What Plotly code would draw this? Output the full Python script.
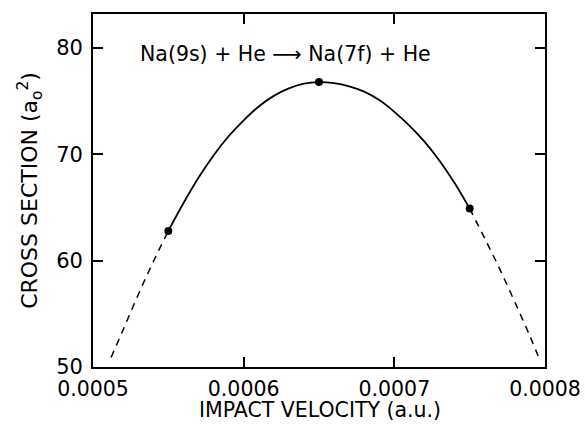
import plotly.graph_objects as go

# Measured points (solid dots)
pt_x = [0.00055, 0.00065, 0.00075]
pt_y = [62.8, 76.8, 64.9]

# Solid fitted curve between the measured points
solid_x = [0.00055, 0.00056, 0.00057, 0.00058, 0.00059, 0.00060, 0.00061, 0.00062,
           0.00063, 0.00064, 0.00065, 0.00066, 0.00067, 0.00068, 0.00069, 0.00070,
           0.00071, 0.00072, 0.00073, 0.00074, 0.00075]
solid_y = [62.8, 65.4, 67.8, 69.9, 71.7, 73.2, 74.5, 75.5,
           76.2, 76.65, 76.8, 76.7, 76.4, 75.9, 75.1, 74.0,
           72.7, 71.2, 69.4, 67.3, 64.9]

# Dashed extrapolations
dash_left_x = [0.000512, 0.00052, 0.00053, 0.00054, 0.00055]
dash_left_y = [50.9, 53.5, 56.8, 59.9, 62.8]
dash_right_x = [0.00075, 0.00076, 0.00077, 0.00078, 0.00079, 0.000797]
dash_right_y = [64.9, 62.1, 59.2, 56.1, 52.9, 50.5]

x_ticks = [0.0005, 0.0006, 0.0007, 0.0008]
x_tick_labels = ["0.0005", "0.0006", "0.0007", "0.0008"]
y_ticks = [50, 60, 70, 80]
y_tick_labels = ["50", "60", "70", "80"]

x_title = "IMPACT VELOCITY (a.u.)"
y_title = "CROSS SECTION (a<sub>o</sub><sup>2</sup>)"
reaction = "Na(9s) + He ⟶ Na(7f) + He"

FONT = "DejaVu Sans"

fig = go.Figure()
fig.add_trace(go.Scatter(x=solid_x, y=solid_y, mode="lines", line_shape="spline",
                         line=dict(color="black", width=1.8), hoverinfo="skip"))
fig.add_trace(go.Scatter(x=dash_left_x, y=dash_left_y, mode="lines", line_shape="spline",
                         line=dict(color="black", width=1.5, dash="7px,6px"), hoverinfo="skip"))
fig.add_trace(go.Scatter(x=dash_right_x, y=dash_right_y, mode="lines", line_shape="spline",
                         line=dict(color="black", width=1.5, dash="7px,6px"), hoverinfo="skip"))
fig.add_trace(go.Scatter(x=pt_x, y=pt_y, mode="markers",
                         marker=dict(color="black", size=8), hoverinfo="skip"))

fig.add_annotation(x=0.000628, y=79.4, xref="x", yref="y",
                   text=reaction, showarrow=False,
                   font=dict(family=FONT, size=20.5, color="black"))

# x-axis title placed as paper annotation below the tick labels
fig.add_annotation(x=0.502, y=0, xref="paper", yref="paper", yanchor="bottom",
                   yshift=-56, borderpad=0, text=x_title, showarrow=False,
                   font=dict(family=FONT, size=20.5, color="black"))

fig.update_layout(
    width=585, height=424,
    margin=dict(l=93, r=40, t=14, b=57),
    paper_bgcolor="white", plot_bgcolor="white",
    showlegend=False,
    font=dict(family=FONT, size=20, color="black"),
)
fig.update_xaxes(
    range=[0.0005, 0.0008], tickvals=x_ticks, ticktext=x_tick_labels,
    showgrid=False, zeroline=False, showline=True, linecolor="black", linewidth=1.8,
    mirror="ticks", ticks="inside", ticklen=10, tickwidth=1.5, tickcolor="black",
    tickfont=dict(family=FONT, size=20.5), ticklabelstandoff=2, automargin=False,
)
fig.update_yaxes(
    range=[50, 83.2], tickvals=y_ticks, ticktext=y_tick_labels,
    showgrid=False, zeroline=False, showline=True, linecolor="black", linewidth=1.8,
    mirror="ticks", ticks="inside", ticklen=10, tickwidth=1.5, tickcolor="black",
    tickfont=dict(family=FONT, size=21), ticklabelstandoff=4, automargin=False,
    title=dict(text=y_title, font=dict(family=FONT, size=22), standoff=12),
)

fig.write_html("out.html", config={"displayModeBar": False},
               post_script="document.body.style.margin='0px';document.body.style.padding='0px';")
